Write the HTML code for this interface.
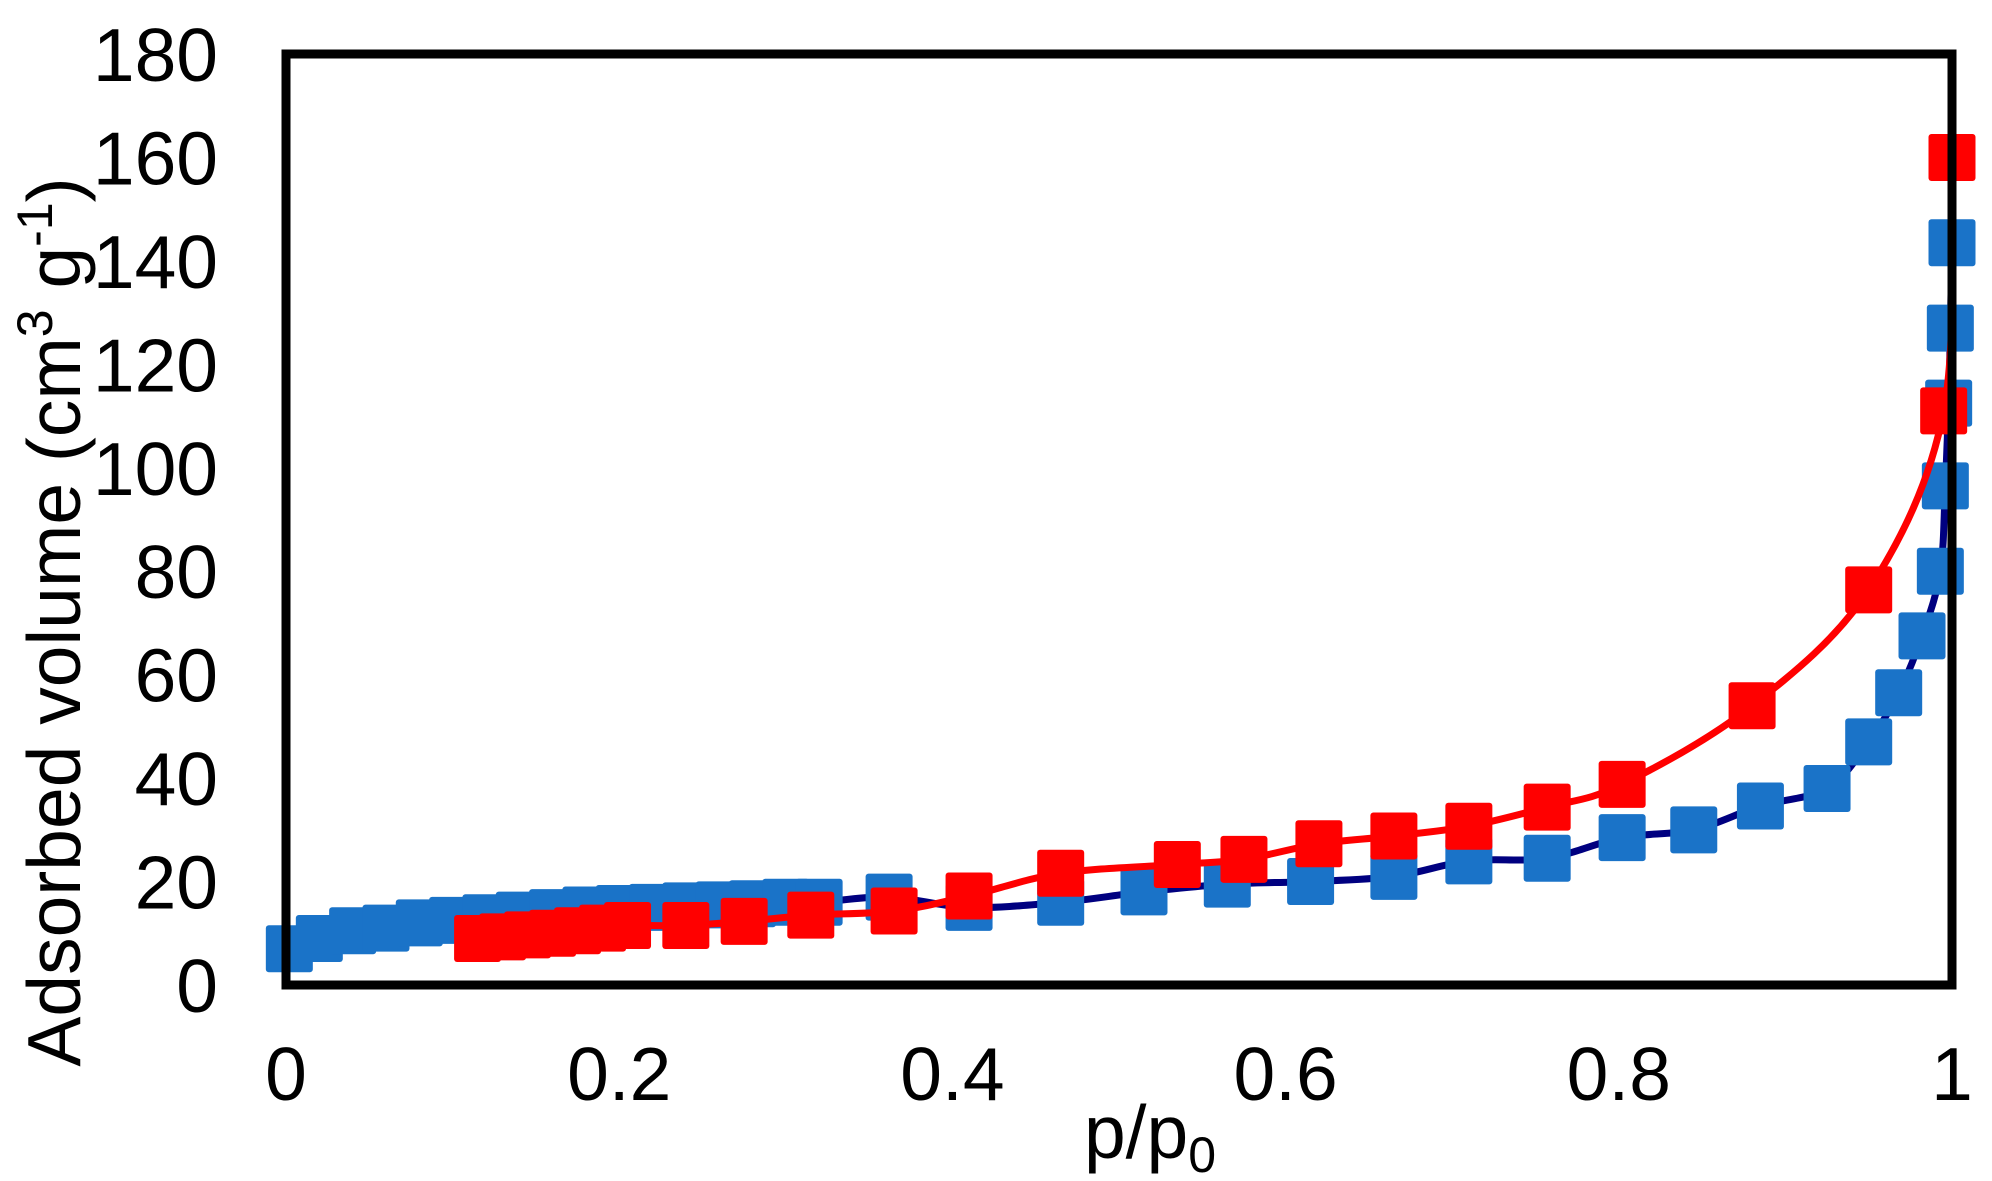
<!DOCTYPE html>
<html><head><meta charset="utf-8"><style>
html,body{margin:0;padding:0;background:#fff;}
svg{display:block;font-family:"Liberation Sans",Arial,sans-serif;}
</style></head><body>
<svg id="chart" width="1992" height="1181" viewBox="0 0 1992 1181" xmlns="http://www.w3.org/2000/svg">
<g id="lines"></g>
<g id="marks"></g>
<rect x="286" y="54" width="1666" height="931" fill="none" stroke="#000" stroke-width="9"/>
<g id="ticks" font-size="75" fill="#000"></g>
<text x="1150" y="1158" font-size="75" text-anchor="middle">p/p<tspan font-size="50" dy="14">0</tspan></text>
<text transform="translate(80,622) rotate(-90)" font-size="75" text-anchor="middle">Adsorbed volume (cm<tspan font-size="50" dy="-28">3</tspan><tspan dy="28"> g</tspan><tspan font-size="50" dy="-28">-1</tspan><tspan dy="28">)</tspan></text>
</svg>
<script>
const adsP=[0.002,0.02,0.04,0.06,0.08,0.1,0.12,0.14,0.16,0.18,0.2,0.22,0.24,0.26,0.28,0.3,0.32,0.362,0.41,0.465,0.515,0.565,0.615,0.665,0.71,0.757,0.802,0.845,0.885,0.925,0.95,0.968,0.982,0.993,0.996,0.998,0.999,1.0];
const adsV=[7,9,10.5,11,12,12.5,13,13.5,14,14.5,14.8,15,15.3,15.5,15.7,16,16,17,15,16,18,19.5,20,21,24,24.5,28.5,30,34.6,38,47,56.5,67.5,80,96.5,112.5,127,143.5];
const desP=[0.115,0.13,0.145,0.16,0.175,0.19,0.205,0.24,0.275,0.315,0.365,0.41,0.465,0.535,0.575,0.62,0.665,0.71,0.757,0.802,0.88,0.95,0.995,1.0];
const desV=[9,9.3,9.7,10,10.5,11,11.5,11.5,12.3,13.5,14.3,17.2,21.6,23.3,24.3,27.3,28.8,30.7,34.4,38.8,54,76.4,111,160];
const xTicks=[0,0.2,0.4,0.6,0.8,1];
const xTickLabels=["0","0.2","0.4","0.6","0.8","1"];
const yTicks=[0,20,40,60,80,100,120,140,160,180];
const X0=286,X1=1952,Y0=985,Y1=54;
function sx(p){return X0+(X1-X0)*p;}
function sy(v){return Y0-(Y0-Y1)*v/180;}
const NS="http://www.w3.org/2000/svg";
function path(ps,vs){
  const P=ps.map((p,i)=>[sx(p),sy(vs[i])]);
  let d="M"+P[0][0].toFixed(1)+" "+P[0][1].toFixed(1);
  const t=0.5/3;
  for(let i=0;i<P.length-1;i++){
    const p0=P[Math.max(0,i-1)],p1=P[i],p2=P[i+1],p3=P[Math.min(P.length-1,i+2)];
    const c1=[p1[0]+(p2[0]-p0[0])*t,p1[1]+(p2[1]-p0[1])*t];
    const c2=[p2[0]-(p3[0]-p1[0])*t,p2[1]-(p3[1]-p1[1])*t];
    d+="C"+c1[0].toFixed(1)+" "+c1[1].toFixed(1)+" "+c2[0].toFixed(1)+" "+c2[1].toFixed(1)+" "+p2[0].toFixed(1)+" "+p2[1].toFixed(1);
  }
  return d;}
const lines=document.getElementById('lines'),marks=document.getElementById('marks'),ticks=document.getElementById('ticks');
function line(ps,vs,col,w,name,parent){const e=document.createElementNS(NS,'path');e.setAttribute('d',path(ps,vs));e.setAttribute('fill','none');e.setAttribute('stroke',col);e.setAttribute('stroke-width',w);e.setAttribute('stroke-linejoin','round');


parent.appendChild(e);}
function pts(ps,vs,col,name,parent){for(let i=0;i<ps.length;i++){const r=document.createElementNS(NS,'rect');r.setAttribute('x',sx(ps[i])-23.5);r.setAttribute('y',sy(vs[i])-23.5);r.setAttribute('width',47);r.setAttribute('height',47);r.setAttribute('rx',3);r.setAttribute('fill',col);


parent.appendChild(r);}}
line(adsP,adsV,'#000080',7,'adsorption-line',lines);
pts(adsP,adsV,'#1a73c8','adsorption-point',marks);
line(desP,desV,'#ff0000',7,'desorption-line',marks);
pts(desP,desV,'#ff0000','desorption-point',marks);
xTicks.forEach((t,i)=>{const e=document.createElementNS(NS,'text');e.setAttribute('x',sx(t));e.setAttribute('y',1100);e.setAttribute('text-anchor','middle');e.textContent=xTickLabels[i];


ticks.appendChild(e);});
yTicks.forEach(t=>{const e=document.createElementNS(NS,'text');e.setAttribute('x',218);e.setAttribute('y',sy(t)+27);e.setAttribute('text-anchor','end');e.textContent=t;


ticks.appendChild(e);});
</script>
</body></html>
